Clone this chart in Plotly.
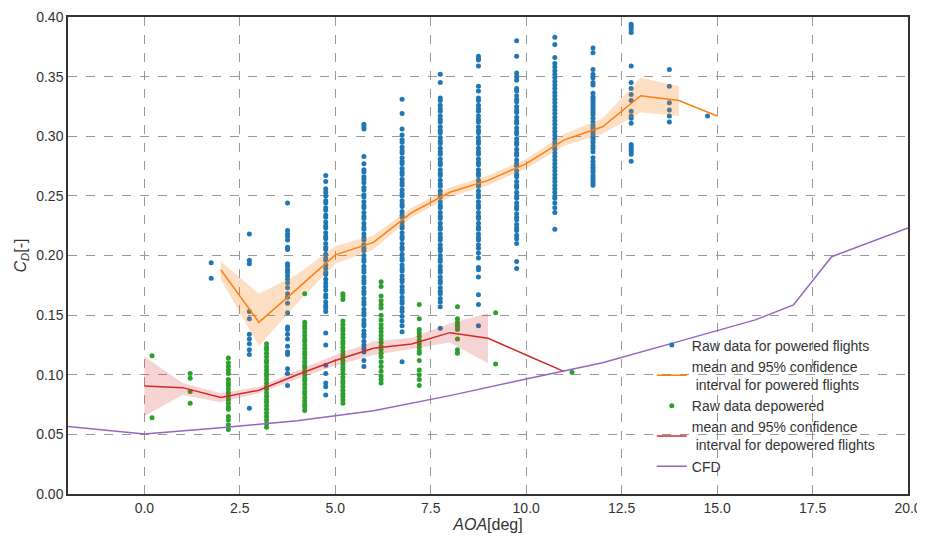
import plotly.graph_objects as go

# ---------------- data ----------------
# Raw data for powered flights: AOA bins and the C_D values read in each bin
powered_aoa = [1.75, 2.75, 3.75, 4.75, 5.75, 6.75, 7.75, 8.75, 9.75, 10.75, 11.75, 12.75, 13.75, 14.75]
powered_cd = [
    [0.194, 0.181],
    [0.218, 0.196, 0.193, 0.153, 0.147, 0.134, 0.130, 0.126, 0.121, 0.117, 0.072],
    [0.244, 0.221, 0.218, 0.216, 0.213, 0.207, 0.205, 0.193, 0.191, 0.188, 0.186, 0.183, 0.180, 0.177, 0.173,
     0.168, 0.165, 0.160, 0.152, 0.140, 0.138, 0.134, 0.130, 0.124, 0.119, 0.117, 0.105, 0.101, 0.091],
    [0.267, 0.262, 0.256, 0.253, 0.250, 0.246, 0.244, 0.240, 0.238, 0.234, 0.232, 0.228, 0.225, 0.223, 0.219,
     0.216, 0.214, 0.210, 0.207, 0.205, 0.201, 0.198, 0.196, 0.192, 0.189, 0.186, 0.184, 0.180, 0.177, 0.174,
     0.171, 0.167, 0.165, 0.161, 0.158, 0.156, 0.153, 0.135, 0.125, 0.108, 0.101, 0.093, 0.090, 0.083],
    [0.310, 0.308, 0.306, 0.283, 0.277, 0.272, 0.270, 0.266, 0.264, 0.261, 0.257, 0.255, 0.251, 0.249, 0.245,
     0.242, 0.240, 0.236, 0.233, 0.231, 0.227, 0.224, 0.222, 0.218, 0.215, 0.213, 0.209, 0.206, 0.204, 0.200,
     0.197, 0.195, 0.191, 0.188, 0.186, 0.182, 0.179, 0.177, 0.173, 0.170, 0.168, 0.164, 0.161, 0.159, 0.155,
     0.152, 0.150, 0.146, 0.143, 0.141, 0.137, 0.134, 0.132, 0.128, 0.125, 0.122, 0.119, 0.112, 0.107],
    [0.331, 0.319, 0.306, 0.301, 0.297, 0.295, 0.291, 0.288, 0.286, 0.282, 0.279, 0.277, 0.273, 0.270, 0.268,
     0.264, 0.261, 0.259, 0.255, 0.252, 0.250, 0.246, 0.243, 0.241, 0.237, 0.234, 0.232, 0.228, 0.225, 0.223,
     0.219, 0.216, 0.214, 0.210, 0.207, 0.205, 0.201, 0.198, 0.196, 0.192, 0.189, 0.187, 0.183, 0.180, 0.178,
     0.174, 0.171, 0.169, 0.165, 0.162, 0.160, 0.156, 0.153, 0.149, 0.145, 0.141, 0.136, 0.111],
    [0.352, 0.345, 0.332, 0.330, 0.326, 0.323, 0.321, 0.317, 0.314, 0.312, 0.308, 0.305, 0.303, 0.299, 0.296,
     0.294, 0.290, 0.287, 0.285, 0.281, 0.278, 0.276, 0.272, 0.269, 0.267, 0.263, 0.260, 0.258, 0.254, 0.251,
     0.249, 0.245, 0.242, 0.240, 0.236, 0.233, 0.231, 0.227, 0.224, 0.222, 0.218, 0.215, 0.213, 0.209, 0.206,
     0.204, 0.200, 0.197, 0.195, 0.191, 0.188, 0.186, 0.182, 0.179, 0.177, 0.173, 0.170, 0.168, 0.164, 0.161,
     0.157, 0.139],
    [0.367, 0.365, 0.364, 0.359, 0.342, 0.338, 0.332, 0.330, 0.326, 0.323, 0.321, 0.317, 0.314, 0.312, 0.308,
     0.305, 0.303, 0.299, 0.296, 0.294, 0.290, 0.287, 0.285, 0.281, 0.278, 0.276, 0.272, 0.269, 0.267, 0.263,
     0.260, 0.258, 0.254, 0.251, 0.249, 0.245, 0.242, 0.240, 0.236, 0.233, 0.231, 0.227, 0.224, 0.222, 0.218,
     0.215, 0.213, 0.209, 0.206, 0.202, 0.198, 0.190, 0.188, 0.182, 0.167, 0.159, 0.141],
    [0.380, 0.367, 0.353, 0.350, 0.347, 0.340, 0.338, 0.334, 0.331, 0.329, 0.325, 0.322, 0.320, 0.316, 0.313,
     0.311, 0.307, 0.304, 0.302, 0.298, 0.295, 0.293, 0.289, 0.286, 0.284, 0.280, 0.277, 0.275, 0.271, 0.268,
     0.266, 0.262, 0.259, 0.257, 0.253, 0.250, 0.248, 0.244, 0.241, 0.239, 0.235, 0.232, 0.230, 0.226, 0.223,
     0.221, 0.217, 0.214, 0.210, 0.195, 0.189],
    [0.383, 0.377, 0.366, 0.361, 0.358, 0.355, 0.352, 0.349, 0.346, 0.343, 0.340, 0.337, 0.334, 0.331, 0.328,
     0.325, 0.322, 0.319, 0.316, 0.313, 0.310, 0.307, 0.304, 0.301, 0.298, 0.295, 0.292, 0.289, 0.286, 0.283,
     0.280, 0.277, 0.274, 0.271, 0.268, 0.265, 0.262, 0.259, 0.256, 0.253, 0.250, 0.248, 0.244, 0.240, 0.236,
     0.222],
    [0.374, 0.370, 0.356, 0.352, 0.349, 0.345, 0.343, 0.336, 0.333, 0.332, 0.330, 0.328, 0.326, 0.324, 0.322,
     0.320, 0.318, 0.315, 0.312, 0.309, 0.307, 0.305, 0.303, 0.301, 0.299, 0.297, 0.295, 0.292, 0.290, 0.287,
     0.282, 0.279, 0.276, 0.274, 0.272, 0.270, 0.267, 0.265, 0.263, 0.261, 0.259],
    [0.394, 0.392, 0.390, 0.387, 0.359, 0.345, 0.340, 0.335, 0.330, 0.321, 0.317, 0.315, 0.311, 0.293, 0.291,
     0.289, 0.287, 0.285, 0.279],
    [0.356, 0.342, 0.328, 0.322, 0.317, 0.312],
    [0.317],
]

# Raw data depowered
depowered_aoa = [0.2, 1.2, 2.2, 3.2, 4.2, 5.2, 6.2, 7.2, 8.2, 9.2, 11.2]
depowered_cd = [
    [0.116, 0.064],
    [0.101, 0.097, 0.086, 0.076],
    [0.114, 0.110, 0.107, 0.104, 0.101, 0.096, 0.093, 0.091, 0.088, 0.085, 0.082, 0.079, 0.076, 0.073, 0.071,
     0.065, 0.062, 0.058, 0.054],
    [0.126, 0.123, 0.121, 0.118, 0.115, 0.112, 0.110, 0.107, 0.104, 0.101, 0.099, 0.096, 0.093, 0.090, 0.088,
     0.085, 0.082, 0.079, 0.077, 0.074, 0.071, 0.068, 0.065, 0.062, 0.059, 0.056],
    [0.168, 0.144, 0.141, 0.139, 0.136, 0.133, 0.130, 0.128, 0.125, 0.122, 0.119, 0.117, 0.114, 0.111, 0.108,
     0.106, 0.103, 0.100, 0.097, 0.095, 0.092, 0.089, 0.086, 0.084, 0.081, 0.078, 0.075, 0.073, 0.070],
    [0.168, 0.166, 0.163, 0.145, 0.142, 0.139, 0.137, 0.134, 0.131, 0.128, 0.126, 0.123, 0.120, 0.117, 0.115,
     0.112, 0.109, 0.106, 0.104, 0.101, 0.098, 0.095, 0.093, 0.090, 0.087, 0.084, 0.082, 0.079, 0.076],
    [0.178, 0.174, 0.166, 0.162, 0.159, 0.156, 0.150, 0.146, 0.142, 0.139, 0.136, 0.133, 0.130, 0.127, 0.124,
     0.121, 0.118, 0.115, 0.111, 0.107, 0.103, 0.099, 0.096, 0.093],
    [0.159, 0.147, 0.138, 0.135, 0.132, 0.129, 0.126, 0.123, 0.120, 0.118, 0.112, 0.104, 0.100, 0.096, 0.091],
    [0.157, 0.147, 0.144, 0.142, 0.140, 0.138, 0.130, 0.121, 0.118],
    [0.152, 0.109],
    [0.102],
]

# Mean and 95% confidence interval, powered flights
powered_mean_aoa = [2, 3, 4, 5, 6, 7, 8, 9, 10, 11, 12, 13, 14, 15]
powered_mean = [0.188, 0.144, 0.172, 0.2005, 0.211, 0.236, 0.253, 0.263, 0.277, 0.297, 0.308, 0.334, 0.330, 0.317]
powered_ci_low = [0.180, 0.124, 0.160, 0.193, 0.205, 0.232, 0.249, 0.259, 0.273, 0.292, 0.302, 0.320, 0.317, None]
powered_ci_high = [0.195, 0.168, 0.184, 0.208, 0.217, 0.240, 0.257, 0.267, 0.281, 0.302, 0.315, 0.349, 0.342, None]

# Mean and 95% confidence interval, depowered flights
depowered_mean_aoa = [0, 1, 2, 3, 4, 5, 6, 7, 8, 9, 10, 11]
depowered_mean = [0.0906, 0.0892, 0.081, 0.087, 0.100, 0.112, 0.1222, 0.1258, 0.1353, 0.1306, 0.1166, 0.1026]
depowered_ci_low = [0.0654, 0.083, 0.077, 0.0845, 0.0965, 0.1075, 0.1165, 0.1215, 0.127, 0.1096, None, None]
depowered_ci_high = [0.1152, 0.093, 0.0845, 0.090, 0.1035, 0.1165, 0.128, 0.131, 0.143, 0.1516, None, None]

# CFD
cfd_aoa = [-2, 0, 2, 4, 6, 8, 10, 12, 14, 16, 17, 18, 20]
cfd_cd = [0.0565, 0.0503, 0.0555, 0.0615, 0.0699, 0.0825, 0.0965, 0.110, 0.128, 0.146, 0.1586, 0.199, 0.223]

x_ticks = [0.0, 2.5, 5.0, 7.5, 10.0, 12.5, 15.0, 17.5, 20.0]
y_ticks = [0.00, 0.05, 0.10, 0.15, 0.20, 0.25, 0.30, 0.35, 0.40]

# ---------------- styling ----------------
BLUE, ORANGE, GREEN, RED, PURPLE = "#1f77b4", "#ff7f0e", "#2ca02c", "#d62728", "#9467bd"
FONT = "Liberation Sans, Arial, sans-serif"


def expand(aoas, groups):
    xs, ys = [], []
    for a, g in zip(aoas, groups):
        for v in g:
            xs.append(a)
            ys.append(v)
    return xs, ys


def band(xs, lo, hi):
    pts = [(x, l, h) for x, l, h in zip(xs, lo, hi) if l is not None and h is not None]
    bx = [p[0] for p in pts] + [p[0] for p in reversed(pts)]
    by = [p[2] for p in pts] + [p[1] for p in reversed(pts)]
    return bx, by


fig = go.Figure()

px_, py_ = expand(powered_aoa, powered_cd)
fig.add_trace(go.Scatter(x=px_, y=py_, mode="markers", name="Raw data for powered flights",
                         marker=dict(color=BLUE, size=5, line=dict(width=0))))

bx, by = band(powered_mean_aoa, powered_ci_low, powered_ci_high)
fig.add_trace(go.Scatter(x=bx, y=by, mode="lines", fill="toself", fillcolor="rgba(255,127,14,0.25)",
                         line=dict(width=0), showlegend=False, hoverinfo="skip"))
fig.add_trace(go.Scatter(x=powered_mean_aoa, y=powered_mean, mode="lines",
                         name="mean and 95% confidence<br> interval for powered flights",
                         line=dict(color=ORANGE, width=1.5)))

dx_, dy_ = expand(depowered_aoa, depowered_cd)
fig.add_trace(go.Scatter(x=dx_, y=dy_, mode="markers", name="Raw data depowered",
                         marker=dict(color=GREEN, size=5, line=dict(width=0))))

bx, by = band(depowered_mean_aoa, depowered_ci_low, depowered_ci_high)
fig.add_trace(go.Scatter(x=bx, y=by, mode="lines", fill="toself", fillcolor="rgba(214,39,40,0.2)",
                         line=dict(width=0), showlegend=False, hoverinfo="skip"))
fig.add_trace(go.Scatter(x=depowered_mean_aoa, y=depowered_mean, mode="lines",
                         name="mean and 95% confidence<br> interval for depowered flights",
                         line=dict(color=RED, width=1.5)))

fig.add_trace(go.Scatter(x=cfd_aoa, y=cfd_cd, mode="lines", name="CFD",
                         line=dict(color=PURPLE, width=1.5)))

axis_common = dict(showline=True, mirror=True, linecolor="#333333", linewidth=1.5, automargin=False,
                   showgrid=True, gridcolor="#999999", gridwidth=1, griddash="dash",
                   zeroline=False, ticks="", tickfont=dict(family=FONT, size=14, color="#333333"))

# the page body adds an 8 px offset, so the figure is sized to fit the window
fig.update_layout(
    width=917, height=529,
    margin=dict(l=60, r=17, t=9, b=43, autoexpand=False),
    paper_bgcolor="white", plot_bgcolor="white",
    font=dict(family=FONT, size=14, color="#333333"),
    xaxis=dict(range=[-2, 20], tickvals=x_ticks, ticktext=[f"{v:.1f}" for v in x_ticks],
               title=dict(text="<i>AOA</i>[deg]", font=dict(size=16), standoff=4), **axis_common),
    yaxis=dict(range=[0, 0.40], tickvals=y_ticks, ticktext=[f"{v:.2f}" for v in y_ticks],
               title=dict(text="<i>C</i><sub><i>D</i></sub>[-]", font=dict(size=16), standoff=6), **axis_common),
    legend=dict(x=0.695, y=0.345, xanchor="left", yanchor="top", bgcolor="rgba(0,0,0,0)",
                borderwidth=0, font=dict(family=FONT, size=14, color="#333333"), tracegroupgap=0),
    showlegend=True,
)

fig.write_html("out.html")
